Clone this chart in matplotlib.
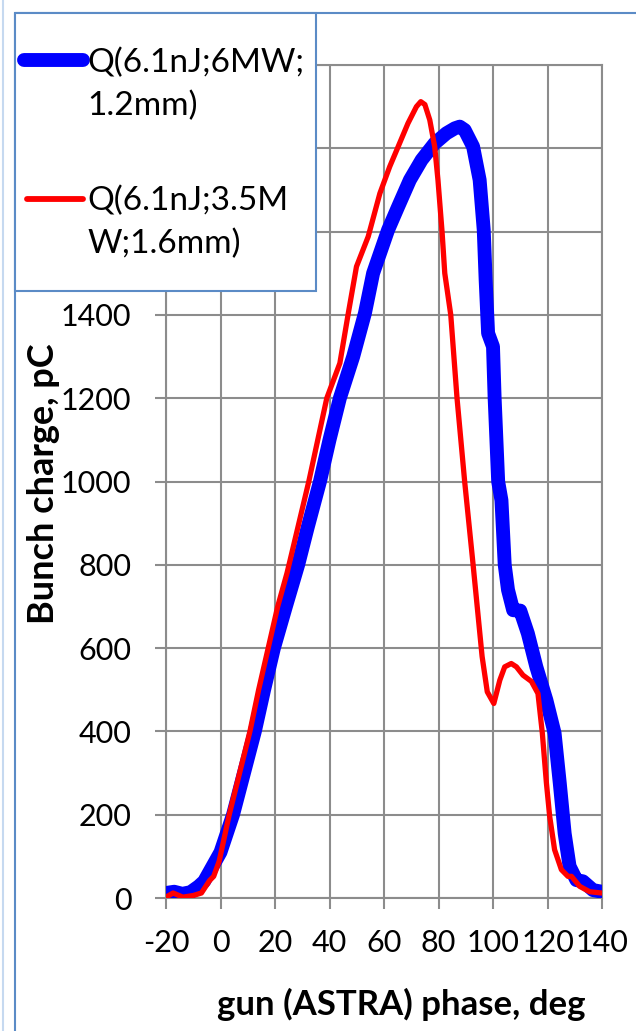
import matplotlib
matplotlib.use('Agg')
import matplotlib.pyplot as plt
from matplotlib.lines import Line2D
from matplotlib.patches import Rectangle
from matplotlib.transforms import Affine2D

W, H = 636, 1031

# blue series: Q(6.1nJ;6MW;1.2mm)
phase_6mw = [-20, -17, -14, -11, -8, -6, -3, 0, 4.6, 8.6, 12.6, 16, 19.6, 24,
             28.5, 32, 36.5, 40, 43.8, 48.7, 53, 56, 61.5, 65.2, 69.5, 73.8, 78.6,
             82.9, 86, 87.8, 89.6, 92.7, 95.1, 96.6, 97.3, 98.2, 100, 100.6, 101.9,
             103.1, 104.3, 105.5, 107.4, 110, 112.8, 115.9, 119.6, 122.6, 124.5,
             126.3, 128.1, 130.6, 133, 136.7, 140]
charge_6mw = [12, 15, 10, 14, 28, 40, 75, 110, 200, 300, 400, 500, 600, 700,
              800, 890, 1000, 1100, 1200, 1300, 1404, 1500, 1604, 1660, 1724, 1772, 1812,
              1836, 1848, 1852, 1844, 1804, 1724, 1604, 1484, 1356, 1324, 1200, 1000,
              955, 800, 740, 691, 690, 635, 555, 475, 396, 276,
              155, 76, 43, 40, 19, 15]

# red series: Q(6.1nJ;3.5MW;1.6mm)
phase_35mw = [-20, -17.4, -13.8, -10, -7, -4, -2.5, -0.5, 3.2, 7, 10.8, 14, 17.5, 21,
              24.4, 25.5, 32.4, 39, 43.8, 46.9, 49.9, 54.2, 58.5, 62.1, 65.2, 68.8, 71.9,
              73.5, 75, 76.8, 78.6, 79.8, 81.3, 82.3, 84.5, 86.8, 89.6, 92.7, 94.5, 96,
              97.9, 100.3, 102.5, 104.3, 106.7, 108.6, 111, 114.1, 116.5, 118.1, 119.6,
              120.8, 122.6, 125.1, 127.5, 128.8, 131.8, 135.5, 139.8]
charge_35mw = [2, 12, 2, 6, 12, 42, 52, 88, 200, 300, 400, 500, 600, 700,
               780, 810, 1000, 1200, 1284, 1404, 1516, 1588, 1692, 1756, 1804, 1860, 1900,
               1912, 1905, 1868, 1804, 1724, 1600, 1500, 1400, 1200, 1000, 800, 680, 580,
               495, 467, 523, 555, 563, 555, 535, 520, 491, 396, 276,
               196, 116, 68, 52, 52, 28, 15, 12]

legend_lines = [['Q(6.1nJ;6MW;', '1.2mm)'], ['Q(6.1nJ;3.5M', 'W;1.6mm)']]
x_ticks = list(range(-20, 141, 20))
y_labelled = list(range(0, 1401, 200))
y_grid = list(range(0, 2001, 200))

FONT = 'Lato'
GRID = '#8c8c8c'
FRAME = '#5b8bc6'
plt.rcParams['axes.unicode_minus'] = False

fig = plt.figure(figsize=(W / 100, H / 100), dpi=100)
ax = fig.add_axes([166 / W, 1 - 898 / H, 436 / W, 833 / H])

ax.plot(phase_6mw, charge_6mw, color='#0000ff', lw=10,
        solid_joinstyle='round', solid_capstyle='round', zorder=3)
ax.plot(phase_35mw, charge_35mw, color='#ff0000', lw=3.8,
        solid_joinstyle='round', solid_capstyle='round', zorder=4)

ax.set_xlim(-20, 140)
ax.set_ylim(0, 2000)
ax.set_xticks(x_ticks)
ax.set_yticks(y_grid)
ax.set_yticklabels([str(v) if v in y_labelled else '' for v in y_grid])
ax.grid(True, color=GRID, lw=1.5)
ax.set_axisbelow(True)
for s in ax.spines.values():
    s.set_color(GRID)
    s.set_linewidth(1.5)
ax.tick_params(axis='both', colors=GRID, length=8, width=1.5, labelcolor='black',
               labelsize=22)
ax.tick_params(axis='y', pad=17)
ax.tick_params(axis='x', pad=14)
for lab in ax.get_xticklabels() + ax.get_yticklabels():
    lab.set_family(FONT)

ax.set_xlabel('gun (ASTRA) phase, deg', fontsize=25, fontweight='bold', family=FONT)
ax.xaxis.set_label_coords((401 - 166) / 436, (898 - 1004) / 833)
ax.xaxis.label.set_va('center')
ax.set_ylabel('Bunch charge, pC', fontsize=26, fontweight='bold', family=FONT)
ax.yaxis.set_label_coords((43 - 166) / 436, (898 - 484) / 833)
ax.yaxis.label.set_va('center')

# pixel coordinates (y down) -> figure
px = Affine2D().scale(1 / W, -1 / H).translate(0, 1) + fig.transFigure

# page and chart-area borders
fig.add_artist(Line2D([3, 3], [0, H], transform=px, color='#c6d9f0', lw=1.5))
fig.add_artist(Line2D([15, 15, W], [H, 13, 13], transform=px, color=FRAME, lw=1.5))

# legend box
fig.add_artist(Rectangle((15, 13), 301, 278, transform=px, facecolor='white',
                         edgecolor=FRAME, lw=1.5, zorder=5))
fig.add_artist(Line2D([24, 83], [60, 60], transform=px, color='#0000ff', lw=10,
                      solid_capstyle='round', zorder=6))
fig.add_artist(Line2D([27, 83], [199, 199], transform=px, color='#ff0000', lw=4.2,
                      solid_capstyle='round', zorder=6))
for lines, base in zip(legend_lines, [72, 210]):
    for k, line in enumerate(lines):
        fig.text(87, base + 43 * k, line, transform=px, fontsize=24, family=FONT,
                 va='baseline', zorder=7)

fig.savefig('out.png', dpi=100)
